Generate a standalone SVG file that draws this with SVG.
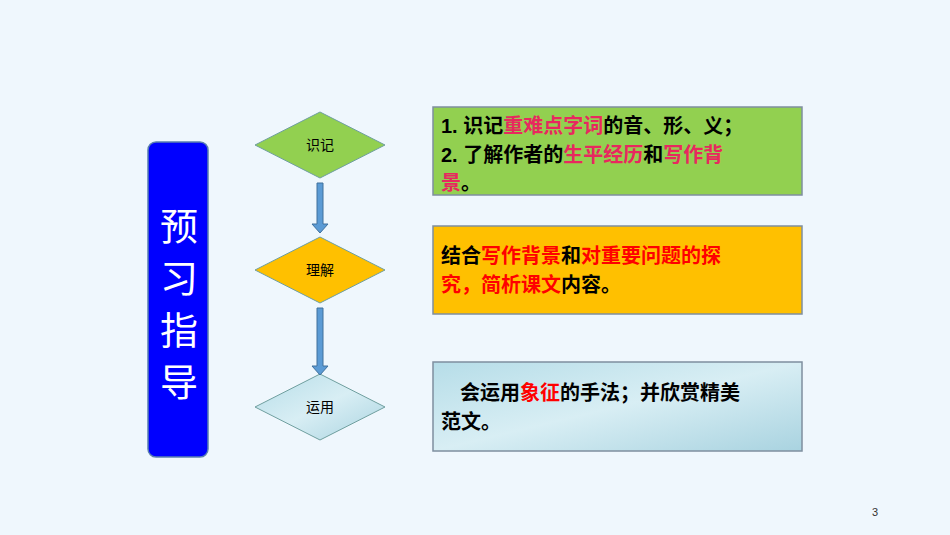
<svg xmlns="http://www.w3.org/2000/svg" width="950" height="535" viewBox="0 0 950 535">
<style>
.t{font-family:"Liberation Sans","Noto Sans CJK SC",sans-serif;font-size:20px;font-weight:bold;fill:#000}
.d{font-family:"Liberation Sans","Noto Sans CJK SC",sans-serif;font-size:14px;fill:#000;text-anchor:middle}
.box{stroke:#7f8f9f;stroke-width:1.5}
.r1{fill:#e8285f}.r2{fill:#ff0000}
</style>
<defs>
<linearGradient id="w" x1="0" y1="0" x2="1" y2="1"><stop offset="0" stop-color="#b6dde8"/><stop offset="0.5" stop-color="#d8eef4"/><stop offset="1" stop-color="#a9d3e0"/></linearGradient>
</defs>
<rect width="950" height="535" fill="#eff7fd"/>
<g id="title"><rect x="148" y="142" width="60" height="315" rx="8" fill="#0000ff" stroke="#5a7fb0" stroke-width="1.5"/>
<text font-family="Noto Sans CJK SC,sans-serif" font-size="38" fill="#fff" text-anchor="middle"><tspan x="179" y="240">预</tspan><tspan x="179" y="292">习</tspan><tspan x="179" y="344">指</tspan><tspan x="179" y="396">导</tspan></text></g>
<g id="n1"><polygon points="320,112 385,145 320,178 255,145" fill="#92d050" stroke="#6f9f9f" stroke-width="1"/><text class="d" x="320" y="150">识记</text></g>
<g id="n2"><polygon points="320,237 385,270 320,303 255,270" fill="#ffc000" stroke="#6f9f9f" stroke-width="1"/><text class="d" x="320" y="275">理解</text></g>
<g id="n3"><polygon points="320,374 385,407 320,440 255,407" fill="url(#w)" stroke="#6f9f9f" stroke-width="1"/><text class="d" x="320" y="412">运用</text></g>
<g id="connectors" fill="#5b9bd5" stroke="#41719c" stroke-width="1">
<polygon points="317,183 323,183 323,224 328,224 320,233 312,224 317,224"/>
<polygon points="317,308 323,308 323,366 328,366 320,375 312,366 317,366"/>
</g>
<g id="b1"><rect class="box" x="433" y="107" width="369" height="88" fill="#92d050"/>
<text class="t"><tspan x="441" y="133">1. 识记<tspan class="r1">重难点字词</tspan>的音、形、义；</tspan><tspan x="441" y="162">2. 了解作者的<tspan class="r1">生平经历</tspan>和<tspan class="r1">写作背</tspan></tspan><tspan x="441" y="190" class="r1">景<tspan style="fill:#000">。</tspan></tspan></text></g>
<g id="b2"><rect class="box" x="433" y="226" width="369" height="88" fill="#ffc000"/>
<text class="t"><tspan x="441" y="263">结合<tspan class="r2">写作背景</tspan>和<tspan class="r2">对重要问题的探</tspan></tspan><tspan x="441" y="292"><tspan class="r2">究，简析课文</tspan>内容。</tspan></text></g>
<g id="b3"><rect class="box" x="433" y="362" width="369" height="89" fill="url(#w)"/>
<text class="t"><tspan x="460" y="400">会运用<tspan class="r2">象征</tspan>的手法；并欣赏精美</tspan><tspan x="441" y="429">范文。</tspan></text></g>
<text x="875" y="516" font-family="Liberation Sans,sans-serif" font-size="11" fill="#333" text-anchor="middle">3</text>
</svg>
